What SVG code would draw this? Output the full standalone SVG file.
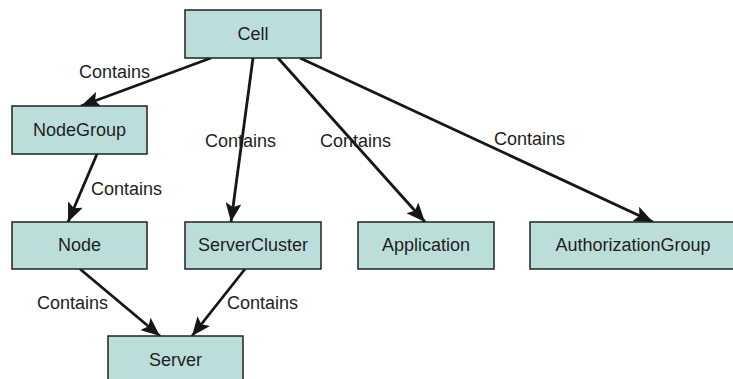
<svg xmlns="http://www.w3.org/2000/svg" width="733" height="379" viewBox="0 0 733 379">
<style>
.box{fill:#bcdeda;stroke:#222;stroke-width:1.5}
.t{font-family:"Liberation Sans",Arial,sans-serif;font-size:18px;fill:#1e1e1e;text-anchor:middle}
.l{font-family:"Liberation Sans",Arial,sans-serif;font-size:18px;fill:#1e1e1e}
.c{stroke:#161616;stroke-width:2.8;fill:none;marker-end:url(#ah)}
</style>
<defs>
<marker id="ah" markerUnits="userSpaceOnUse" markerWidth="20" markerHeight="16" refX="19" refY="8" orient="auto">
<path d="M0,0 L19,8 L0,16 L4,8 z" fill="#161616"/>
</marker>
</defs>
<rect width="733" height="379" fill="#fff"/>
<g id="connectors">
<line class="c" x1="211" y1="58" x2="81" y2="106"/>
<line class="c" x1="253" y1="58" x2="231" y2="222"/>
<line class="c" x1="278" y1="58" x2="425" y2="222"/>
<line class="c" x1="300" y1="58" x2="653" y2="222"/>
<line class="c" x1="97" y1="154" x2="68" y2="222"/>
<line class="c" x1="80" y1="269" x2="160" y2="336"/>
<line class="c" x1="245" y1="269" x2="192" y2="336"/>
<text class="l" x="79" y="78">Contains</text>
<text class="l" x="205" y="147">Contains</text>
<text class="l" x="320" y="147">Contains</text>
<text class="l" x="494" y="145">Contains</text>
<text class="l" x="91" y="195">Contains</text>
<text class="l" x="37" y="309">Contains</text>
<text class="l" x="227" y="309">Contains</text>
</g>
<g id="cell"><rect class="box" x="185" y="10" width="136" height="48"/><text class="t" x="253" y="40">Cell</text></g>
<g id="nodegroup"><rect class="box" x="12" y="106" width="135" height="48"/><text class="t" x="79.5" y="136">NodeGroup</text></g>
<g id="node"><rect class="box" x="12" y="222" width="135" height="47"/><text class="t" x="79.5" y="251">Node</text></g>
<g id="servercluster"><rect class="box" x="185" y="222" width="136" height="47"/><text class="t" x="253" y="251">ServerCluster</text></g>
<g id="application"><rect class="box" x="358" y="222" width="136" height="47"/><text class="t" x="426" y="251">Application</text></g>
<g id="authorizationgroup"><rect class="box" x="530" y="222" width="206" height="47"/><text class="t" x="633" y="251">AuthorizationGroup</text></g>
<g id="server"><rect class="box" x="108" y="336" width="135" height="48"/><text class="t" x="175.5" y="366">Server</text></g>
</svg>
